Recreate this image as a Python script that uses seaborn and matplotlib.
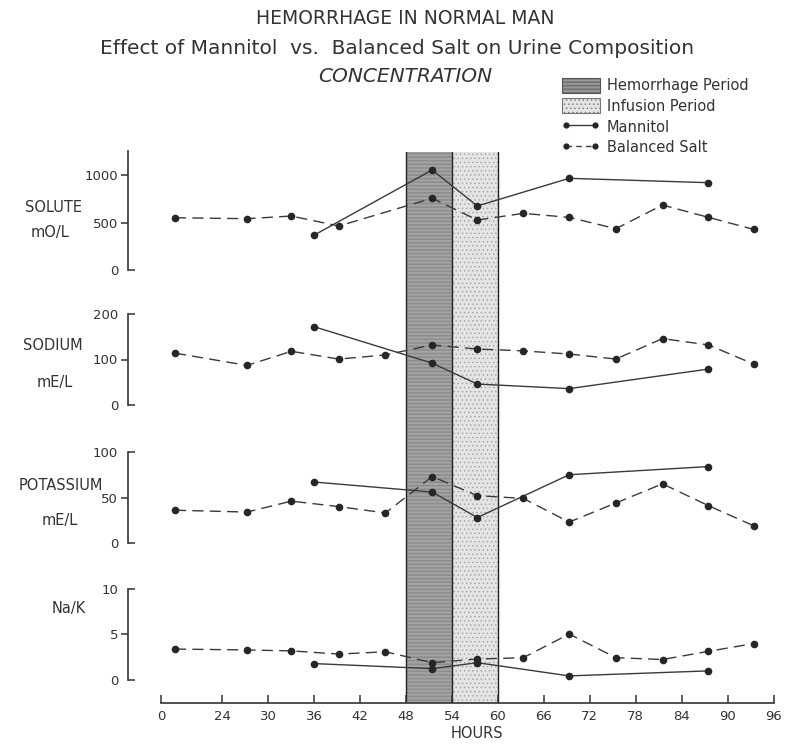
import numpy as np
import pandas as pd
import seaborn as sns
import matplotlib.pyplot as plt
from matplotlib.patches import Patch
from matplotlib.lines import Line2D
from matplotlib.ticker import FixedLocator, FixedFormatter

# data (x in plotted hours; the 0-24 stretch of the axis is compressed)
bal_hours = [17.8, 27.2, 33.0, 39.2, 45.3, 51.4, 57.3, 63.3, 69.3, 75.4, 81.5, 87.5, 93.4]
bal_hours_solute = [17.8, 27.2, 33.0, 39.2, 51.4, 57.3, 63.3, 69.3, 75.4, 81.5, 87.5, 93.4]
man_hours = [36.0, 51.4, 57.3, 69.3, 87.5]

solute_bal = [550, 540, 568, 463, 755, 526, 596, 554, 435, 684, 554, 428]
solute_man = [368, 1053, 674, 965, 919]
sodium_bal = [114, 87, 118, 101, 110, 132, 123, 119, 112, 101, 146, 132, 90]
sodium_man = [172, 92, 46, 36, 79]
potassium_bal = [36, 34, 46, 40, 33, 73, 52, 49, 23, 44, 65, 41, 19]
potassium_man = [67, 56, 28, 75, 84]
nak_bal = [3.4, 3.3, 3.2, 2.85, 3.1, 1.9, 2.3, 2.45, 5.05, 2.45, 2.25, 3.15, 4.0]
nak_man = [1.8, 1.25, 1.9, 0.45, 1.0]

tick_pos = [16, 24, 30, 36, 42, 48, 54, 60, 66, 72, 78, 84, 90, 96]
tick_labels = ['0', '24', '30', '36', '42', '48', '54', '60', '66', '72', '78', '84', '90', '96']
hemorrhage = (48, 54)
infusion = (54, 60)

sns.set_style('white')
plt.rcParams['font.family'] = ['DejaVu Sans']
plt.rcParams['hatch.linewidth'] = 0.5

W, H = 791, 746
fig = plt.figure(figsize=(W / 100, H / 100), dpi=100)

def rect(l, t, r, b):
    return [l / W, 1 - b / H, (r - l) / W, (b - t) / H]

XL, XR = 128, 785
xlim = (11.66, 97.5)
ink = '#333333'
hem_face, hem_hatch = '#b8b8b8', '#7c7c7c'
inf_face, inf_hatch = '#e4e4e4', '#a0a0a0'

# background axes carrying the two shaded periods across all panels
bg = fig.add_axes(rect(XL, 152, XR, 703))
bg.set_xlim(xlim)
bg.set_ylim(0, 1)
bg.axis('off')
bg.axvspan(*hemorrhage, facecolor=hem_face, edgecolor=hem_hatch, hatch='-' * 12, linewidth=0)
bg.axvspan(*infusion, facecolor=inf_face, edgecolor=inf_hatch, hatch='.' * 4, linewidth=0)
for x in [48, 54, 60]:
    bg.axvline(x, color='#222222', lw=1.0)

panels = [
    dict(man=solute_man, bal=solute_bal, bh=bal_hours_solute, top=151.25, bot=270, ylim=(0, 1250),
         major=[500, 1000], minor=[0]),
    dict(man=sodium_man, bal=sodium_bal, bh=bal_hours, top=314, bot=405, ylim=(0, 200),
         major=[100], minor=[0, 200]),
    dict(man=potassium_man, bal=potassium_bal, bh=bal_hours, top=452, bot=543, ylim=(0, 100),
         major=[50], minor=[0, 100]),
    dict(man=nak_man, bal=nak_bal, bh=bal_hours, top=589, bot=703, ylim=(-2.53, 10),
         major=[5], minor=[0, 10]),
]

for i, p in enumerate(panels):
    ax = fig.add_axes(rect(XL, p['top'], XR, p['bot']))
    ax.patch.set_alpha(0)
    df = pd.concat([
        pd.DataFrame({'hours': man_hours, 'value': p['man'], 'series': 'Mannitol'}),
        pd.DataFrame({'hours': p['bh'], 'value': p['bal'], 'series': 'Balanced Salt'}),
    ])
    sns.lineplot(data=df, x='hours', y='value', style='series',
                 dashes={'Mannitol': '', 'Balanced Salt': (8, 4.5)},
                 markers={'Mannitol': 'o', 'Balanced Salt': 'o'},
                 color='#3a3a3a', markersize=5.5, markeredgewidth=0,
                 linewidth=1.0, legend=False, ax=ax, clip_on=False)
    for ln in ax.lines:
        ln.set_markerfacecolor('#262626')
    ax.set_xlim(xlim)
    ax.set_ylim(p['ylim'])
    ax.set_xlabel('')
    ax.set_ylabel('')
    for s in ['top', 'right']:
        ax.spines[s].set_visible(False)
    ax.spines['left'].set_color(ink)
    ax.spines['left'].set_linewidth(1.2)
    ax.spines['left'].set_bounds(0, p['ylim'][1])
    ax.yaxis.set_major_locator(FixedLocator(p['major']))
    ax.yaxis.set_major_formatter(FixedFormatter([str(v) for v in p['major']]))
    ax.yaxis.set_minor_locator(FixedLocator(p['minor']))
    ax.yaxis.set_minor_formatter(FixedFormatter([str(v) for v in p['minor']]))
    ax.tick_params(axis='y', which='major', direction='out', length=5, width=1.1,
                   color=ink, labelsize=9.5, labelcolor=ink, pad=2, left=True)
    ax.tick_params(axis='y', which='minor', direction='in', length=5, width=1.1,
                   color=ink, labelsize=9.5, labelcolor=ink, pad=7, left=True)
    if i < 3:
        ax.spines['bottom'].set_visible(False)
        ax.set_xticks([])
    else:
        ax.spines['bottom'].set_color(ink)
        ax.spines['bottom'].set_linewidth(1.2)
        ax.spines['bottom'].set_bounds(16, 96)
        ax.set_xticks(tick_pos)
        ax.set_xticklabels(tick_labels)
        ax.tick_params(axis='x', direction='in', length=6, width=1.1, color=ink,
                       labelsize=9.5, labelcolor=ink, pad=5, bottom=True)
        ax.set_xlabel('HOURS', fontsize=10.5, color=ink)
        ax.xaxis.set_label_coords((477 - XL) / (XR - XL), -0.2)

# panel names
lab = dict(ha='center', va='center', fontsize=10.5, color=ink)
fig.text(53 / W, 1 - 207 / H, 'SOLUTE', **lab)
fig.text(50 / W, 1 - 233 / H, 'mO/L', **lab)
fig.text(53 / W, 1 - 345 / H, 'SODIUM', **lab)
fig.text(55 / W, 1 - 382 / H, 'mE/L', **lab)
fig.text(61 / W, 1 - 485 / H, 'POTASSIUM', **lab)
fig.text(60 / W, 1 - 520 / H, 'mE/L', **lab)
fig.text(69 / W, 1 - 608 / H, 'Na/K', **lab)

# titles
fig.text(405 / W, 1 - 18 / H, 'HEMORRHAGE IN NORMAL MAN', ha='center', va='center',
         fontsize=13.5, color=ink)
fig.text(397 / W, 1 - 48 / H, 'Effect of Mannitol  vs.  Balanced Salt on Urine Composition',
         ha='center', va='center', fontsize=14.5, color=ink)
fig.text(405 / W, 1 - 76 / H, 'CONCENTRATION', ha='center', va='center',
         fontsize=14.5, style='italic', color=ink)

handles = [
    Patch(facecolor=hem_face, edgecolor='#555555', hatch='-' * 12, lw=0.8, label='Hemorrhage Period'),
    Patch(facecolor=inf_face, edgecolor='#777777', hatch='.' * 4, lw=0.8, label='Infusion Period'),
    Line2D([], [], color='#3a3a3a', lw=1.0, marker='o', markersize=4.5,
           markerfacecolor='#262626', markeredgewidth=0, label='Mannitol'),
    Line2D([], [], color='#3a3a3a', lw=1.0, dashes=(4, 3), marker='o', markersize=4.5,
           markerfacecolor='#262626', markeredgewidth=0, label='Balanced Salt'),
]
leg = fig.legend(handles=handles, loc='upper left', bbox_to_anchor=(556 / W, 1 - 72 / H),
                 frameon=False, fontsize=10.5, handlelength=2.6, handleheight=1.2,
                 handletextpad=0.5, labelspacing=0.36, numpoints=2, borderaxespad=0)
for t in leg.get_texts():
    t.set_color(ink)

fig.savefig('out.png', dpi=100)
